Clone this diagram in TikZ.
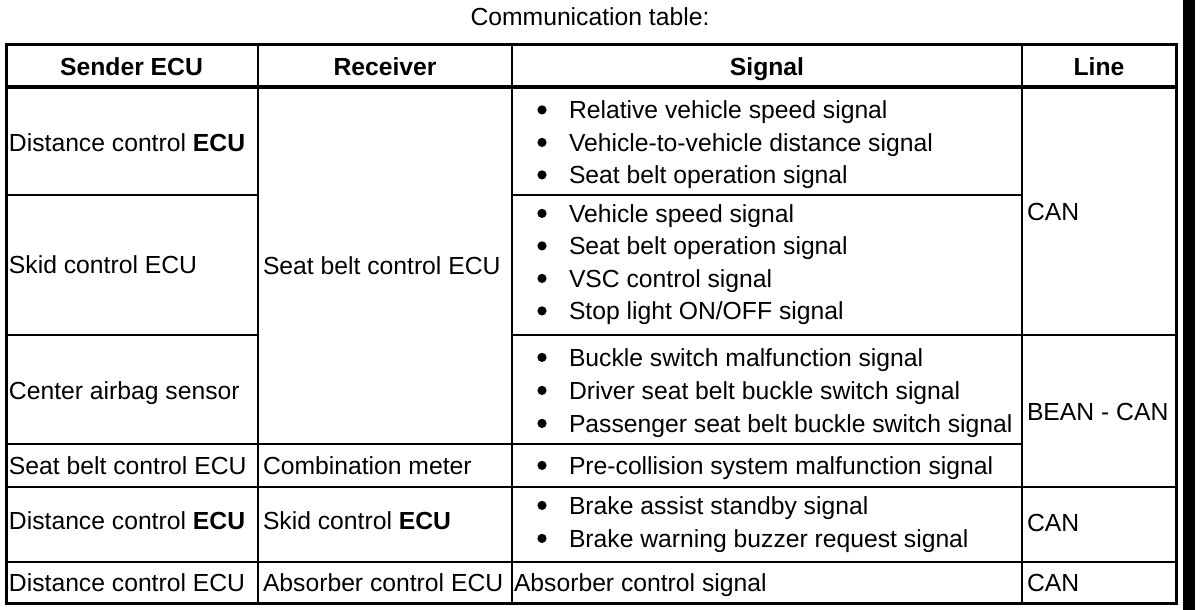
\documentclass[tikz,border=0pt]{standalone}
\usepackage{fontspec}
\setmainfont{Liberation Sans}
\begin{document}
\begin{tikzpicture}[x=1pt,y=-1pt,
  every node/.style={inner sep=0pt, outer sep=0pt, font=\fontsize{24.7pt}{30pt}\selectfont},
  cell/.style={anchor=base west},
  item/.style={anchor=base west, text depth=0pt},
  head/.style={anchor=base, font=\fontsize{24.7pt}{30pt}\selectfont\bfseries},
  title/.style={anchor=base},
  frame/.style={line width=3pt},
  rule/.style={line width=2pt},
  hrule/.style={line width=3.5pt},
  dotmark/.style={fill=black}]
\fill[white] (0,0) rectangle (1200,610);
\useasboundingbox (0,0) rectangle (1200,610);
% right black bar
\fill[black] (1183,0) rectangle (1195,610);

% title
\node[title] (ttl) at (590,26) {Communication table:};

% grid
\draw[rule] (258,45) -- (258,603);
\draw[rule] (512,45) -- (512,603);
\draw[rule] (1022,45) -- (1022,603);
\draw[hrule] (6.5,87) -- (1176.5,87);
\draw[rule] (6.5,195) -- (258,195);
\draw[rule] (512,195) -- (1022,195);
\draw[rule] (6.5,334.5) -- (258,334.5);
\draw[rule] (512,334.5) -- (1176.5,334.5);
\draw[rule] (6.5,444) -- (1022,444);
\draw[rule] (6.5,487) -- (1176.5,487);
\draw[rule] (6.5,561.5) -- (1176.5,561.5);
\draw[frame] (6.5,44.5) rectangle (1176.5,603.5);

% header
\node[head] (h1) at (131.5,75) {Sender ECU};
\node[head] (h2) at (385,75) {Receiver};
\node[head] (h3) at (767,75) {Signal};
\node[head] (h4) at (1099,75) {Line};

% senders
\node[cell] (s1) at (9,151) {Distance control \textbf{ECU}};
\node[cell] (s2) at (9,273) {Skid control ECU};
\node[cell] (s3) at (9,399) {Center airbag sensor};
\node[cell] (s4) at (9,474) {Seat belt control ECU};
\node[cell] (s5) at (9,529) {Distance control \textbf{ECU}};
\node[cell] (s6) at (9,591) {Distance control ECU};

% receivers
\node[cell] (r1) at (263,274) {Seat belt control ECU};
\node[cell] (r4) at (263,474) {Combination meter};
\node[cell] (r5) at (263,529) {Skid control \textbf{ECU}};
\node[cell] (r6) at (263,591) {Absorber control ECU};

% signals
\node[item] (g1a) at (537.5,118.5) {\hspace*{31.5pt}Relative vehicle speed signal};
\node[item] (g1b) at (537.5,151) {\hspace*{31.5pt}Vehicle-to-vehicle distance signal};
\node[item] (g1c) at (537.5,183.5) {\hspace*{31.5pt}Seat belt operation signal};
\node[item] (g2a) at (537.5,222) {\hspace*{31.5pt}Vehicle speed signal};
\node[item] (g2b) at (537.5,254.5) {\hspace*{31.5pt}Seat belt operation signal};
\node[item] (g2c) at (537.5,287) {\hspace*{31.5pt}VSC control signal};
\node[item] (g2d) at (537.5,319.5) {\hspace*{31.5pt}Stop light ON/OFF signal};
\node[item] (g3a) at (537.5,366) {\hspace*{31.5pt}Buckle switch malfunction signal};
\node[item] (g3b) at (537.5,399) {\hspace*{31.5pt}Driver seat belt buckle switch signal};
\node[item] (g3c) at (537.5,432) {\hspace*{31.5pt}Passenger seat belt buckle switch signal};
\node[item] (g4a) at (537.5,474) {\hspace*{31.5pt}Pre-collision system malfunction signal};
\node[item] (g5a) at (537.5,514) {\hspace*{31.5pt}Brake assist standby signal};
\node[item] (g5b) at (537.5,547) {\hspace*{31.5pt}Brake warning buzzer request signal};
\node[cell] (g6a) at (514,591) {Absorber control signal};

% bullets
\foreach \n in {g1a,g1b,g1c,g2a,g2b,g2c,g2d,g3a,g3b,g3c,g4a,g5a,g5b}
  \fill[dotmark] ([xshift=4.5pt,yshift=8.6pt]\n.base west) circle (4.6pt);

% lines
\node[cell] (l1) at (1027,220) {CAN};
\node[cell] (l3) at (1027,420) {BEAN - CAN};
\node[cell] (l5) at (1027,531) {CAN};
\node[cell] (l6) at (1027,591) {CAN};
\end{tikzpicture}
\end{document}
